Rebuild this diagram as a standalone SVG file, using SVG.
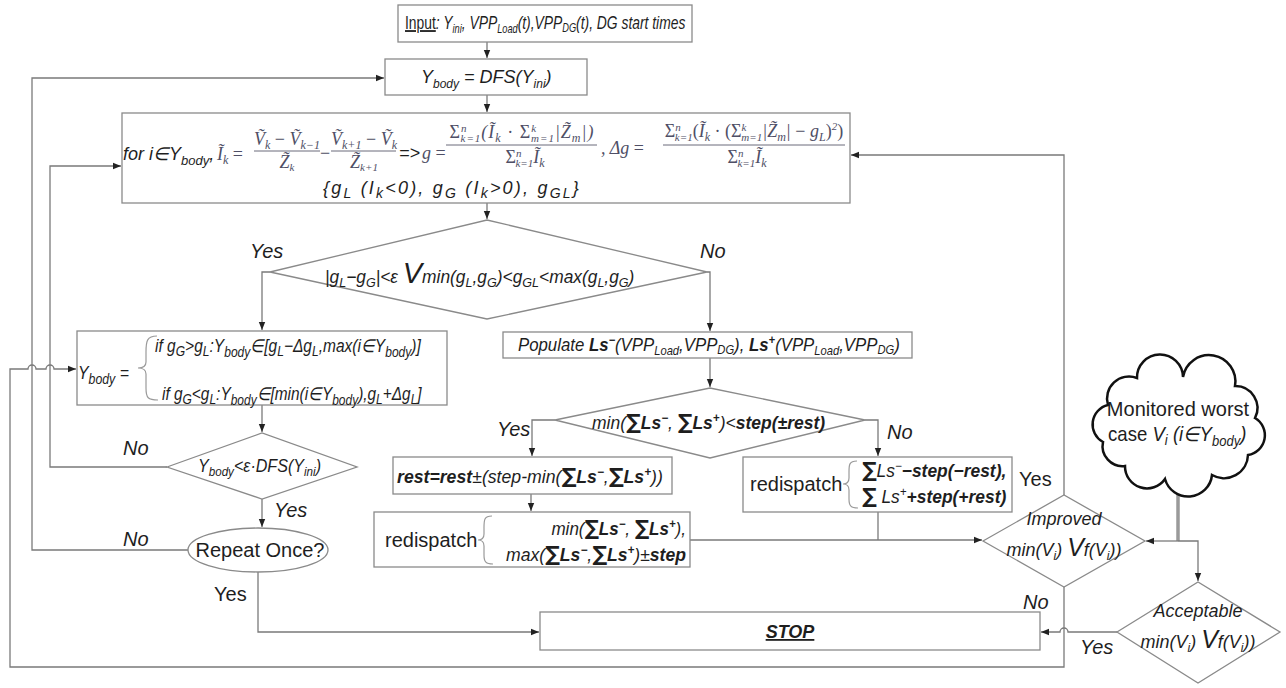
<svg xmlns="http://www.w3.org/2000/svg" width="1286" height="688" viewBox="0 0 1286 688">
<defs>
<marker id="ah" viewBox="0 0 10 10" refX="10" refY="5" markerWidth="8" markerHeight="8" orient="auto" markerUnits="userSpaceOnUse"><path d="M0,1 L10,5 L0,9 z" fill="#222"/></marker>
<style>
.box{fill:#fff;stroke:#8a8a8a;stroke-width:1.3}
.ln{fill:none;stroke:#7a7a7a;stroke-width:1.3}
.br{fill:none;stroke:#9a9a9a;stroke-width:1.2}
.t{font-family:"Liberation Sans",Arial,sans-serif;font-style:italic;font-size:18px;fill:#1e1e1e}
.a{font-family:"Liberation Sans",Arial,sans-serif;font-size:20px;fill:#1e1e1e}
.ai{font-family:"Liberation Sans",Arial,sans-serif;font-style:italic;font-size:20px;fill:#1e1e1e}
.m{font-family:"Liberation Serif",serif;font-style:italic;font-size:18px;fill:#4f4f66}
.s{font-size:12px}
.b{font-weight:bold}
.sg{font-family:"DejaVu Sans",sans-serif;font-style:normal;font-weight:bold;font-size:21px}
.up{font-style:normal}
</style>
</defs>
<rect width="1286" height="688" fill="#fff"/>

<g id="connectors">
<path class="ln" d="M487,42 V58" marker-end="url(#ah)"/>
<path class="ln" d="M487,95 V112" marker-end="url(#ah)"/>
<path class="ln" d="M487,203 V219" marker-end="url(#ah)"/>
<path class="ln" d="M270,272 H262 V330" marker-end="url(#ah)"/>
<path class="ln" d="M707,272 H710 V331" marker-end="url(#ah)"/>
<path class="ln" d="M710,358 V387" marker-end="url(#ah)"/>
<path class="ln" d="M555,420 H532 V456" marker-end="url(#ah)"/>
<path class="ln" d="M865,420 H878 V456" marker-end="url(#ah)"/>
<path class="ln" d="M531,494 V511" marker-end="url(#ah)"/>
<path class="ln" d="M690,540 H982" marker-end="url(#ah)"/>
<path class="ln" d="M878,512 V540"/>
<path class="ln" d="M262,405 V432" marker-end="url(#ah)"/>
<path class="ln" d="M262,499 V527" marker-end="url(#ah)"/>
<path class="ln" d="M167,467 H50 V166 H121" marker-end="url(#ah)"/>
<path class="ln" d="M188,550 H32 V78 H384" marker-end="url(#ah)"/>
<path class="ln" d="M1064,587 V667 H10 V369 H28 A4,4 0 0 1 36,369 H46 A4,4 0 0 1 54,369 H76" marker-end="url(#ah)"/>
<path class="ln" d="M1064,495 V155 H851" marker-end="url(#ah)"/>
<path class="ln" d="M258,572 V632 H539" marker-end="url(#ah)"/>
<path class="ln" d="M1117,632 H1068 A4,4 0 0 0 1060,632 H1041" marker-end="url(#ah)"/>
<path d="M1178,480 V541" fill="none" stroke="#9a9a9a" stroke-width="3.5"/>
<path class="ln" d="M1178,541 H1146" marker-end="url(#ah)"/>
<path class="ln" d="M1178,541 H1198 V581" marker-end="url(#ah)"/>
</g>

<g id="input">
<rect class="box" x="398" y="5" width="294" height="37"/>
<text class="t" transform="translate(405,29) scale(0.77,1)"><tspan class="up" text-decoration="underline">Input</tspan>: Y<tspan class="s" dy="4">ini</tspan><tspan dy="-4">, VPP</tspan><tspan class="s" dy="4">Load</tspan><tspan dy="-4">(t),VPP</tspan><tspan class="s" dy="3">DG</tspan><tspan dy="-3">(t), DG start times</tspan></text>
</g>

<g id="dfs">
<rect class="box" x="385" y="59" width="202" height="36"/>
<text class="t" x="421" y="83">Y<tspan class="s" dy="5">body</tspan><tspan dy="-5"> = DFS(Y</tspan><tspan class="s" dy="5">ini</tspan><tspan dy="-5">)</tspan></text>
</g>

<g id="formula">
<rect class="box" x="122" y="113" width="728" height="90"/>
<text class="t" x="123" y="160" font-size="19">for i∈Y<tspan font-size="13" dy="5">body</tspan><tspan dy="-5">,</tspan></text>
<text class="m" x="217" y="160">Ĩ<tspan font-size="12" dy="4">k</tspan><tspan class="up" dy="-4"> =</tspan></text>
<text class="m" x="287" y="145" text-anchor="middle">Ṽ<tspan font-size="12" dy="4">k</tspan><tspan class="up" dy="-4"> − </tspan>Ṽ<tspan font-size="12" dy="4">k−1</tspan></text>
<line x1="254" y1="151" x2="320" y2="151" stroke="#6a6a7a" stroke-width="1"/>
<text class="m" x="287" y="168" text-anchor="middle">Z̃<tspan font-size="11" dy="3">k</tspan></text>
<text class="m up" x="320" y="159">−</text>
<text class="m" x="364" y="145" text-anchor="middle">Ṽ<tspan font-size="12" dy="4">k+1</tspan><tspan class="up" dy="-4"> − </tspan>Ṽ<tspan font-size="12" dy="4">k</tspan></text>
<line x1="331" y1="151" x2="396" y2="151" stroke="#6a6a7a" stroke-width="1"/>
<text class="m" x="364" y="168" text-anchor="middle">Z̃<tspan font-size="11" dy="3">k+1</tspan></text>
<text class="t" x="399" y="159" fill="#444">=&gt;</text>
<text class="m" x="422" y="159">g <tspan class="up">=</tspan></text>
<text class="m" x="522" y="138" font-size="19" letter-spacing="1" text-anchor="middle"><tspan class="up">Σ</tspan><tspan font-size="11" dy="-6">n</tspan><tspan font-size="11" dx="-7" dy="10">k=1</tspan><tspan dy="-4">(Ĩ</tspan><tspan font-size="12" dy="4">k</tspan><tspan class="up" dy="-4"> · Σ</tspan><tspan font-size="11" dy="-6">k</tspan><tspan font-size="11" dx="-6" dy="10">m=1</tspan><tspan dy="-4">|Z̃</tspan><tspan font-size="12" dy="4">m</tspan><tspan dy="-4">|)</tspan></text>
<line x1="446" y1="145" x2="597" y2="145" stroke="#6a6a7a" stroke-width="1"/>
<text class="m" x="525" y="163" text-anchor="middle"><tspan class="up">Σ</tspan><tspan font-size="11" dy="-6">n</tspan><tspan font-size="11" dx="-6" dy="10">k=1</tspan><tspan dy="-4">Ĩ</tspan><tspan font-size="12" dy="4">k</tspan></text>
<text class="m" x="601" y="154" font-size="19">, Δg <tspan class="up">=</tspan></text>
<text class="m" x="754" y="137" text-anchor="middle"><tspan class="up">Σ</tspan><tspan font-size="11" dy="-6">n</tspan><tspan font-size="11" dx="-6" dy="10">k=1</tspan><tspan class="up" dy="-4">(</tspan>Ĩ<tspan font-size="12" dy="4">k</tspan><tspan class="up" dy="-4"> · (Σ</tspan><tspan font-size="11" dy="-6">k</tspan><tspan font-size="11" dx="-5" dy="10">m=1</tspan><tspan dy="-4">|Z̃</tspan><tspan font-size="12" dy="4">m</tspan><tspan dy="-4">| </tspan><tspan class="up">− </tspan>g<tspan font-size="12" dy="4">L</tspan><tspan class="up" dy="-4">)</tspan><tspan font-size="11" dy="-7">2</tspan><tspan class="up" dy="7">)</tspan></text>
<line x1="663" y1="145" x2="845" y2="145" stroke="#6a6a7a" stroke-width="1"/>
<text class="m" x="747" y="163" text-anchor="middle"><tspan class="up">Σ</tspan><tspan font-size="11" dy="-6">n</tspan><tspan font-size="11" dx="-6" dy="10">k=1</tspan><tspan dy="-4">Ĩ</tspan><tspan font-size="12" dy="4">k</tspan></text>
<text class="t" x="323" y="194" font-size="21" letter-spacing="2.2">{g<tspan font-size="14" dy="4">L</tspan><tspan dy="-4"> (I</tspan><tspan font-size="14" dy="4">k</tspan><tspan dy="-4">&lt;0), g</tspan><tspan font-size="14" dy="4">G</tspan><tspan dy="-4"> (I</tspan><tspan font-size="14" dy="4">k</tspan><tspan dy="-4">&gt;0), g</tspan><tspan font-size="14" dy="4">GL</tspan><tspan dy="-4">}</tspan></text>
</g>

<g id="dec1">
<polygon class="box" points="270,272 487,220 707,272 487,319"/>
<text class="t" font-size="19" transform="translate(325,283) scale(0.965,1)">|g<tspan font-size="13" dy="4">L</tspan><tspan dy="-4">−g</tspan><tspan font-size="13" dy="4">G</tspan><tspan dy="-4">|&lt;ε </tspan><tspan font-size="30">V</tspan>min(g<tspan font-size="13" dy="4">L</tspan><tspan dy="-4">,g</tspan><tspan font-size="13" dy="4">G</tspan><tspan dy="-4">)&lt;g</tspan><tspan font-size="13" dy="4">GL</tspan><tspan dy="-4">&lt;max(g</tspan><tspan font-size="13" dy="4">L</tspan><tspan dy="-4">,g</tspan><tspan font-size="13" dy="4">G</tspan><tspan dy="-4">)</tspan></text>
<text class="ai" x="250" y="258">Yes</text>
<text class="ai" x="700" y="258">No</text>
</g>

<g id="ybody">
<rect class="box" x="77" y="331" width="370" height="74"/>
<text class="t" font-size="21" transform="translate(78,379) scale(0.88,1)">Y<tspan font-size="14" dy="5">body</tspan><tspan dy="-5"> =</tspan></text>
<path class="br" d="M157,336 C147,336 146,341 146,352 L146,362 C146,366 143,368 138,368 C143,368 146,370 146,374 L146,388 C146,398 148,400 158,400"/>
<text class="t" font-size="21" transform="translate(155,352) scale(0.863,1)">if g<tspan font-size="14" dy="4">G</tspan><tspan dy="-4">&gt;g</tspan><tspan font-size="14" dy="4">L</tspan><tspan dy="-4">:Y</tspan><tspan font-size="14" dy="5">body</tspan><tspan dy="-5">∈[g</tspan><tspan font-size="14" dy="4">L</tspan><tspan dy="-4">−Δg</tspan><tspan font-size="14" dy="4">L</tspan><tspan dy="-4">,max(i∈Y</tspan><tspan font-size="14" dy="5">body</tspan><tspan dy="-5">)]</tspan></text>
<text class="t" font-size="21" transform="translate(162,400) scale(0.856,1)">if g<tspan font-size="14" dy="4">G</tspan><tspan dy="-4">&lt;g</tspan><tspan font-size="14" dy="4">L</tspan><tspan dy="-4">:Y</tspan><tspan font-size="14" dy="5">body</tspan><tspan dy="-5">∈[min(i∈Y</tspan><tspan font-size="14" dy="5">body</tspan><tspan dy="-5">),g</tspan><tspan font-size="14" dy="4">L</tspan><tspan dy="-4">+Δg</tspan><tspan font-size="14" dy="4">L</tspan><tspan dy="-4">]</tspan></text>
</g>

<g id="dec-eps">
<polygon class="box" points="167,467 262,433 357,467 262,499"/>
<text class="t" font-size="19" transform="translate(198,472) scale(0.894,1)">Y<tspan font-size="13" dy="4">body</tspan><tspan dy="-4">&lt;ε·DFS(Y</tspan><tspan font-size="13" dy="4">ini</tspan><tspan dy="-4">)</tspan></text>
<text class="ai" x="123" y="455">No</text>
<text class="ai" x="274" y="517">Yes</text>
</g>

<g id="repeat">
<ellipse cx="258" cy="550" rx="70" ry="22" fill="#fff" stroke="#8a8a8a" stroke-width="1.3"/>
<text class="a" x="260" y="557" text-anchor="middle">Repeat Once?</text>
<text class="ai" x="123" y="546">No</text>
<text class="a" x="214" y="601">Yes</text>
</g>

<g id="populate">
<rect class="box" x="503" y="332" width="409" height="26"/>
<text class="t" transform="translate(518,351) scale(0.933,1)">Populate <tspan class="b">Ls</tspan><tspan class="s b" dy="-7">−</tspan><tspan dy="7">(VPP</tspan><tspan class="s" dy="4">Load</tspan><tspan dy="-4">,VPP</tspan><tspan class="s" dy="3">DG</tspan><tspan dy="-3">), </tspan><tspan class="b">Ls</tspan><tspan class="s b" dy="-7">+</tspan><tspan dy="7">(VPP</tspan><tspan class="s" dy="4">Load</tspan><tspan dy="-4">,VPP</tspan><tspan class="s" dy="3">DG</tspan><tspan dy="-3">)</tspan></text>
</g>

<g id="dec2">
<polygon class="box" points="555,420 710,388 865,420 710,458"/>
<text class="t" transform="translate(592,429) scale(0.973,1)">min(<tspan class="sg">∑</tspan><tspan class="b">Ls</tspan><tspan class="s b" dy="-7">−</tspan><tspan dy="7">, </tspan><tspan class="sg">∑</tspan><tspan class="b">Ls</tspan><tspan class="s b" dy="-7">+</tspan><tspan dy="7">)&lt;</tspan><tspan class="b">step(±rest)</tspan></text>
<text class="ai" x="497" y="436">Yes</text>
<text class="ai" x="887" y="439">No</text>
</g>

<g id="rest">
<rect class="box" x="393" y="457" width="279" height="37"/>
<text class="t" transform="translate(397,483) scale(0.983,1)"><tspan class="b">rest=rest</tspan>±(step-min(<tspan class="sg">∑</tspan><tspan class="b">Ls</tspan><tspan class="s b" dy="-7">−</tspan><tspan dy="7">,</tspan><tspan class="sg">∑</tspan><tspan class="b">Ls</tspan><tspan class="s b" dy="-7">+</tspan><tspan dy="7">))</tspan></text>
</g>

<g id="redispatch1">
<rect class="box" x="374" y="512" width="316" height="55"/>
<text class="a" x="385" y="547">redispatch</text>
<path class="br" d="M492,516 C484,516 484,520 484,528 L484,534 C484,538 482,540 478,540 C482,540 484,542 484,546 L484,555 C484,562 486,564 493,564"/>
<text class="t" text-anchor="end" transform="translate(686,535) scale(0.947,1)">min(<tspan class="sg">∑</tspan><tspan class="b">Ls</tspan><tspan class="s b" dy="-7">−</tspan><tspan dy="7">, </tspan><tspan class="sg">∑</tspan><tspan class="b">Ls</tspan><tspan class="s b" dy="-7">+</tspan><tspan dy="7">),</tspan></text>
<text class="t" text-anchor="end" transform="translate(686,561) scale(0.978,1)">max(<tspan class="sg">∑</tspan><tspan class="b">Ls</tspan><tspan class="s b" dy="-7">−</tspan><tspan dy="7">,</tspan><tspan class="sg">∑</tspan><tspan class="b">Ls</tspan><tspan class="s b" dy="-7">+</tspan><tspan dy="7">)±</tspan><tspan class="b">step</tspan></text>
</g>

<g id="redispatch2">
<rect class="box" x="743" y="457" width="269" height="55"/>
<text class="a" x="750" y="491">redispatch</text>
<path class="br" d="M857,461 C849,461 849,465 849,472 L849,478 C849,482 847,484 843,484 C847,484 849,486 849,490 L849,499 C849,506 851,508 858,508"/>
<text class="t" transform="translate(862,477) scale(0.968,1)"><tspan class="sg">∑</tspan>Ls<tspan class="s" dy="-7">−</tspan><tspan class="b" dy="7">−step(−rest),</tspan></text>
<text class="t" transform="translate(862,503) scale(0.968,1)"><tspan class="sg">∑</tspan> Ls<tspan class="s" dy="-7">+</tspan><tspan class="b" dy="7">+step(+rest)</tspan></text>
<text class="a" x="1019" y="486">Yes</text>
</g>

<g id="improved">
<polygon class="box" points="983,541 1064,495 1145,541 1064,587"/>
<text class="t" x="1064" y="525" text-anchor="middle" fill="#333">Improved</text>
<text class="t" x="1064" y="556" text-anchor="middle" fill="#333">min(V<tspan class="s" dy="4">i</tspan><tspan dy="-4">) </tspan><tspan font-size="25">V</tspan><tspan>f(V</tspan><tspan class="s" dy="4">i</tspan><tspan dy="-4">))</tspan></text>
<text class="ai" x="1023" y="609">No</text>
</g>

<g id="cloud">
<path d="M1108,405 A22,22 0 0 1 1137,378 A20,20 0 0 1 1183,377 A22,22 0 0 1 1235,386 A22,22 0 0 1 1255,418 A20,20 0 0 1 1248,455 A24,24 0 0 1 1212,475 A24,24 0 0 1 1165,479 A22,22 0 0 1 1125,466 A20,20 0 0 1 1103,442 A20,20 0 0 1 1108,405 Z" fill="#fff" stroke="#111" stroke-width="2.5"/>
<text class="a" x="1178" y="416" font-size="20.5" text-anchor="middle">Monitored worst</text>
<text class="a" font-size="20.5" transform="translate(1108,441) scale(0.93,1)">case <tspan font-style="italic">V</tspan><tspan font-size="14" font-style="italic" dy="4">i</tspan><tspan font-style="italic" dy="-4"> (i∈Y</tspan><tspan font-size="14" font-style="italic" dy="5">body</tspan><tspan font-style="italic" dy="-5">)</tspan></text>
</g>

<g id="acceptable">
<polygon class="box" points="1117,632 1198,582 1280,632 1198,683"/>
<text class="t" x="1198" y="617" text-anchor="middle" fill="#333">Acceptable</text>
<text class="t" x="1198" y="648" text-anchor="middle" fill="#333">min(V<tspan class="s" dy="4">i</tspan><tspan dy="-4">) </tspan><tspan font-size="25">V</tspan><tspan>f(V</tspan><tspan class="s" dy="4">i</tspan><tspan dy="-4">))</tspan></text>
<text class="ai" x="1080" y="654">Yes</text>
</g>

<g id="stop">
<rect class="box" x="540" y="612" width="500" height="38"/>
<text class="t" x="790" y="638" font-size="20" text-anchor="middle" font-weight="bold" text-decoration="underline">STOP</text>
</g>
</svg>
